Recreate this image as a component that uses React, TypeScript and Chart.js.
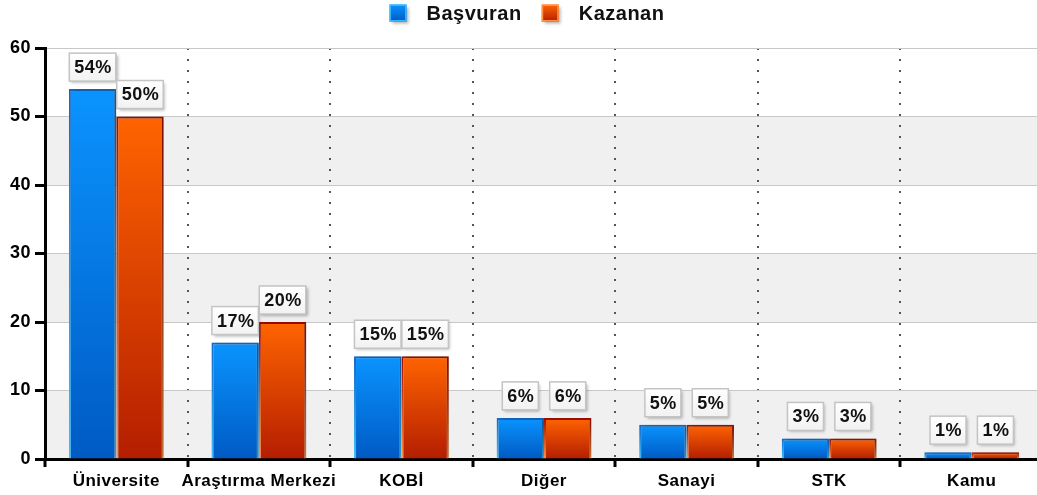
import React, { useEffect, useRef } from "react";
import { Chart, registerables } from "chart.js";

Chart.register(...registerables);

// ---- data ----
const categories = ["Üniversite", "Araştırma Merkezi", "KOBİ", "Diğer", "Sanayi", "STK", "Kamu"];
const basvuran = [54, 17, 15, 6, 5, 3, 1];
const kazanan = [50, 20, 15, 6, 5, 3, 1];
const seriesNames = ["Başvuran", "Kazanan"];
const yTickValues = [0, 10, 20, 30, 40, 50, 60];

// ---- styles ----
const FONT = '"Liberation Sans", Arial, Helvetica, sans-serif';
const BLUE = { top: "#0a94ff", bottom: "#005ac4", borderTop: "#1268c8", borderBottom: "#3cc0ff" };
const ORANGE = { top: "#ff6400", bottom: "#b41e00", borderTop: "#9c0c00", borderBottom: "#ff9448" };
const PALETTE = [BLUE, ORANGE];

function barGrad(c: any, pal: any, border: boolean) {
  const chart = c.chart;
  const ys = chart.scales && chart.scales.y;
  if (!ys || !chart.chartArea || typeof c.raw !== "number") return border ? pal.borderTop : pal.top;
  const top = ys.getPixelForValue(c.raw);
  const bottom = ys.getPixelForValue(0);
  const g = chart.ctx.createLinearGradient(0, top, 0, Math.max(bottom, top + 1));
  g.addColorStop(0, border ? pal.borderTop : pal.top);
  g.addColorStop(1, border ? pal.borderBottom : pal.bottom);
  return g;
}

const spacingPlugin = {
  id: "spacing",
  beforeUpdate(chart: any) {
    chart.ctx.letterSpacing = "0.5px";
  },
  beforeDraw(chart: any) {
    chart.ctx.letterSpacing = "0.5px";
  },
};

const bandsPlugin = {
  id: "bands",
  beforeDraw(chart: any) {
    const { ctx, chartArea, scales } = chart;
    const y = scales.y;
    ctx.save();
    ctx.fillStyle = "#f0f0f0";
    for (let i = 0; i < yTickValues.length - 1; i += 2) {
      const a = y.getPixelForValue(yTickValues[i]);
      const b = y.getPixelForValue(yTickValues[i + 1]);
      ctx.fillRect(chartArea.left, b, chartArea.right - chartArea.left, a - b);
    }
    ctx.restore();
  },
};

const barDecorPlugin = {
  id: "barDecor",
  beforeDatasetsDraw(chart: any) {
    const ctx = chart.ctx;
    ctx.save();
    ctx.shadowColor = "rgba(0,0,0,0.28)";
    ctx.shadowOffsetX = 3;
    ctx.shadowOffsetY = 0;
    ctx.shadowBlur = 4;
  },
  afterDatasetsDraw(chart: any) {
    const ctx = chart.ctx;
    ctx.restore();
    ctx.save();
    ctx.font = `bold 18px ${FONT}`;
    ctx.textAlign = "center";
    ctx.textBaseline = "middle";
    chart.data.datasets.forEach((ds: any, di: number) => {
      const meta = chart.getDatasetMeta(di);
      meta.data.forEach((el: any, i: number) => {
        const txt = `${ds.data[i]}%`;
        const w = ctx.measureText(txt).width + 9;
        const h = 28;
        const bx = el.x - w / 2;
        const by = el.y - 8 - h;
        ctx.save();
        ctx.shadowColor = "rgba(0,0,0,0.3)";
        ctx.shadowOffsetX = 2;
        ctx.shadowOffsetY = 2;
        ctx.shadowBlur = 3;
        const g = ctx.createLinearGradient(0, by, 0, by + h);
        g.addColorStop(0, "#ffffff");
        g.addColorStop(1, "#f2f2f2");
        ctx.fillStyle = g;
        ctx.fillRect(bx, by, w, h);
        ctx.restore();
        ctx.strokeStyle = "#c4c4c4";
        ctx.lineWidth = 1.5;
        ctx.strokeRect(bx, by, w, h);
        ctx.fillStyle = "#111";
        ctx.fillText(txt, el.x + 0.5, by + h / 2 + 1);
      });
    });
    ctx.restore();
  },
};

const legendPlugin = {
  id: "customLegend",
  afterDraw(chart: any) {
    const ctx = chart.ctx;
    ctx.save();
    ctx.font = `bold 20px ${FONT}`;
    ctx.textBaseline = "middle";
    ctx.textAlign = "left";
    const box = 17;
    const gapBoxText = 20;
    const gapItems = 20;
    const labels = chart.data.datasets.map((d: any) => d.label);
    const widths = labels.map((l: string) => ctx.measureText(l).width);
    const total =
      widths.reduce((s: number, w: number) => s + w + box + gapBoxText, 0) + gapItems * (labels.length - 1);
    let x = 527 - total / 2;
    const cy = 13;
    labels.forEach((l: string, i: number) => {
      const pal = PALETTE[i];
      ctx.save();
      ctx.shadowColor = "rgba(0,0,0,0.3)";
      ctx.shadowOffsetX = 2;
      ctx.shadowOffsetY = 2;
      ctx.shadowBlur = 3;
      const g = ctx.createLinearGradient(0, cy - box / 2, 0, cy + box / 2);
      g.addColorStop(0, pal.top);
      g.addColorStop(1, pal.bottom);
      ctx.fillStyle = g;
      ctx.fillRect(x, cy - box / 2, box, box);
      ctx.restore();
      ctx.strokeStyle = i === 0 ? "#3ab6ff" : "#ff9448";
      ctx.lineWidth = 1.5;
      ctx.strokeRect(x + 0.75, cy - box / 2 + 0.75, box - 1.5, box - 1.5);
      ctx.fillStyle = "#111";
      ctx.fillText(l, x + box + gapBoxText, cy + 1);
      x += box + gapBoxText + widths[i] + gapItems;
    });
    ctx.restore();
  },
};

export default function App() {
  const ref = useRef<HTMLCanvasElement | null>(null);

  useEffect(() => {
    if (!ref.current) return;
    const chart = new Chart(ref.current, {
      type: "bar",
      data: {
        labels: categories,
        datasets: [
          {
            label: seriesNames[0],
            data: basvuran,
            backgroundColor: (c: any) => barGrad(c, BLUE, false),
            borderColor: (c: any) => barGrad(c, BLUE, true),
            borderWidth: 2,
            categoryPercentage: 0.665,
            barPercentage: 1,
          },
          {
            label: seriesNames[1],
            data: kazanan,
            backgroundColor: (c: any) => barGrad(c, ORANGE, false),
            borderColor: (c: any) => barGrad(c, ORANGE, true),
            borderWidth: 2,
            categoryPercentage: 0.665,
            barPercentage: 1,
          },
        ],
      },
      options: {
        responsive: false,
        animation: false,
        devicePixelRatio: 1,
        layout: { padding: { top: 48, left: 0, right: 0, bottom: 0 } },
        plugins: {
          legend: { display: false },
          tooltip: { enabled: false },
          title: { display: false },
        },
        scales: {
          x: {
            offset: true,
            grid: {
              offset: true,
              color: "#555",
              lineWidth: 2,
              borderDash: [2, 9],
              drawTicks: true,
              tickLength: 8,
              tickColor: "#000",
              tickWidth: 3,
              tickBorderDash: [10, 0],
            },
            border: { display: true, color: "#000", width: 3, dash: [2, 9] },
            ticks: {
              color: "#000",
              font: { size: 17, weight: "bold", family: FONT },
              padding: 4,
              maxRotation: 0,
              autoSkip: false,
            },
            afterFit: (s: any) => {
              s.height = 36;
            },
          },
          y: {
            min: 0,
            max: 60,
            afterBuildTicks: (s: any) => {
              s.ticks = yTickValues.map((v) => ({ value: v }));
            },
            grid: {
              color: "#c8c8c8",
              lineWidth: 1,
              drawTicks: true,
              tickLength: 10,
              tickColor: "#000",
              tickWidth: 3,
              tickBorderDash: [10, 0],
            },
            border: { display: true, color: "#000", width: 3 },
            ticks: {
              color: "#000",
              font: { size: 18, weight: "bold", family: FONT },
              padding: 4,
            },
            afterFit: (s: any) => {
              s.width = 45;
            },
          },
        },
      },
      plugins: [spacingPlugin, bandsPlugin, barDecorPlugin, legendPlugin],
    } as any);
    return () => chart.destroy();
  }, []);

  return (
    <div
      style={{
        position: "fixed",
        left: 0,
        top: 0,
        width: 1037,
        height: 495,
        overflow: "hidden",
        background: "#ffffff",
      }}
    >
      <canvas ref={ref} width={1043} height={495} style={{ display: "block" }} />
    </div>
  );
}
